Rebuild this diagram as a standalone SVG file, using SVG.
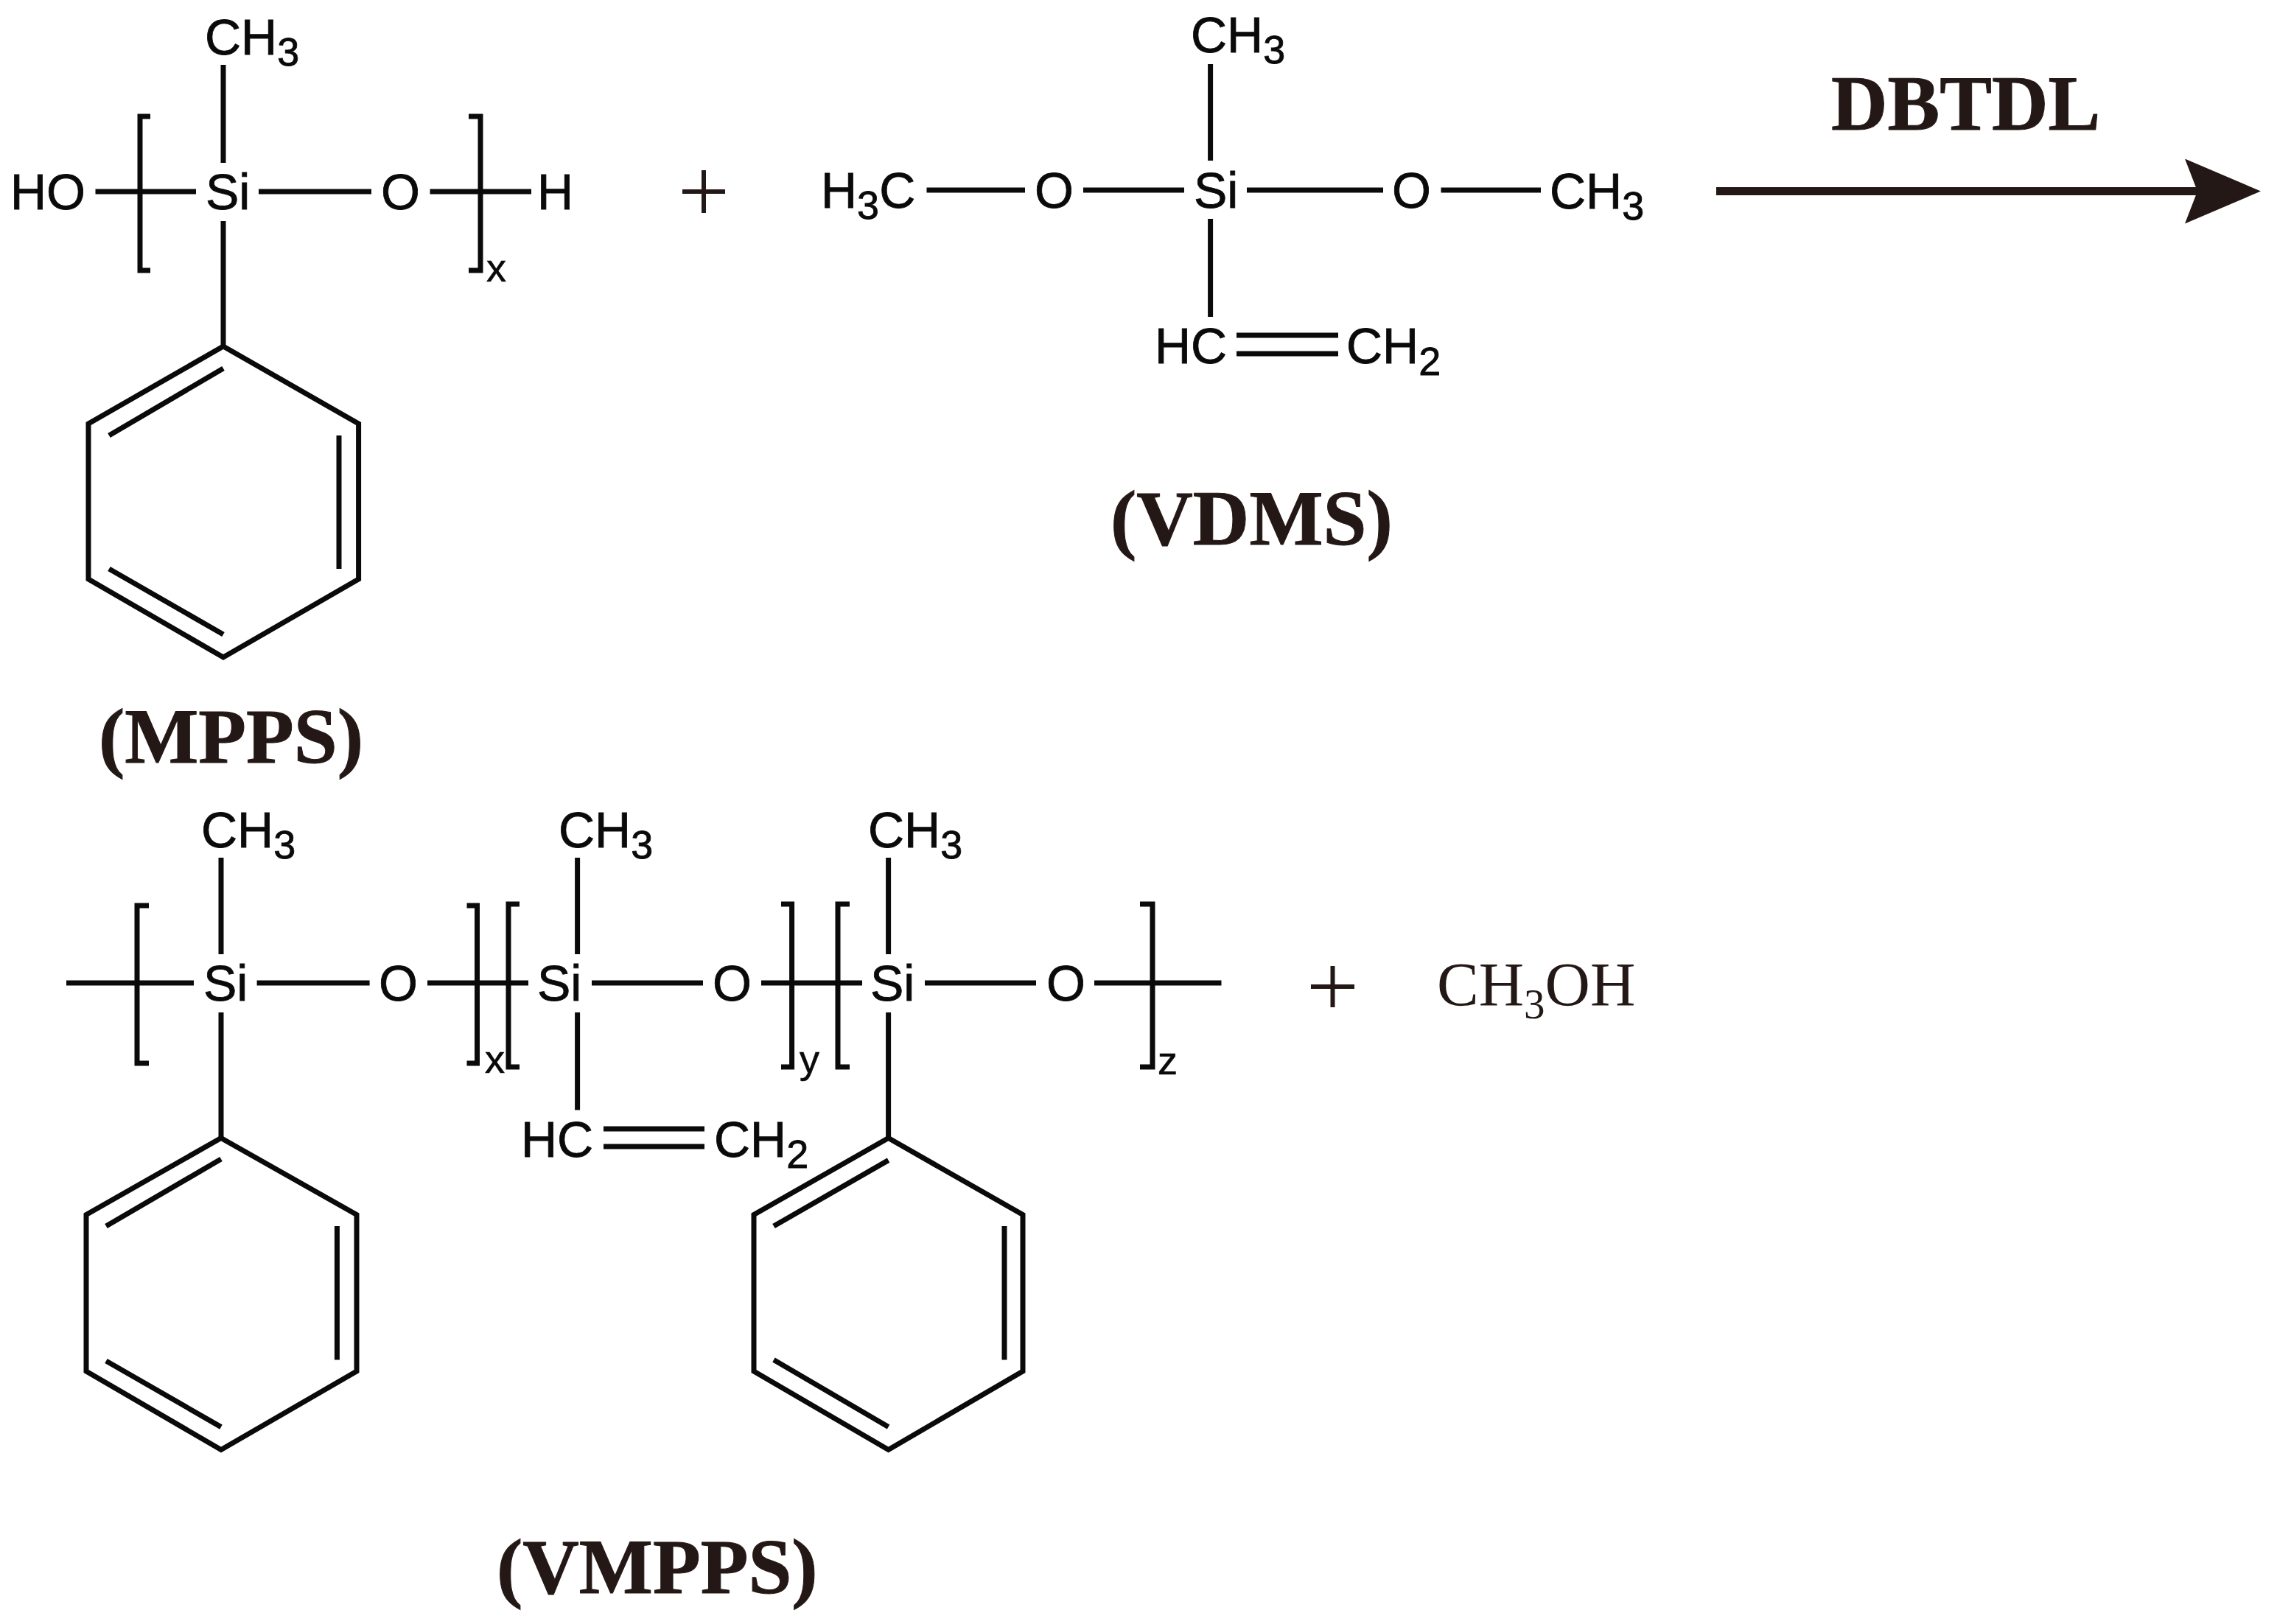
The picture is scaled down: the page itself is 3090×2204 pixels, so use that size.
<svg xmlns="http://www.w3.org/2000/svg" width="3090" height="2204" viewBox="0 0 3090 2204">
<style>
.a{font-family:"Liberation Sans",Arial,sans-serif;font-size:68px;fill:#0a0a0a;stroke:#0a0a0a;stroke-width:.8}
.s{font-size:54px}
.n{font-family:"Liberation Sans",Arial,sans-serif;font-size:54px;fill:#0a0a0a;stroke:#0a0a0a;stroke-width:.6}
.t{font-family:"Liberation Serif","Times New Roman",serif;font-size:106px;font-weight:bold;fill:#231815;stroke:#231815;stroke-width:1}
.c{font-family:"Liberation Serif","Times New Roman",serif;font-size:85px;fill:#231815}
.b{fill:none;stroke:#0a0a0a;stroke-width:7;stroke-linejoin:miter}
.p{fill:none;stroke:#231815;stroke-width:6}
</style>
<defs>
<marker id="head" markerUnits="userSpaceOnUse" markerWidth="104" markerHeight="90" refX="19" refY="44" orient="auto">
<path d="M0 0L103 44L0 88L17 44Z" fill="#231815"/>
</marker>
</defs>
<rect width="3090" height="2204" fill="#fff"/>
<g id="connectors">
<g id="bonds-mpps" class="b">
<path d="M303 88V221M303 300V470M129.500 260H266M351 260H504M583.500 260H721"/>
<path d="M204 158H190V367H204M636 158H652V367H636"/>
<path d="M303 470L486.600 575V786L303 892L120 786V575Z"/>
<path d="M148 591L303 500M460 591V772M148 772L303 861"/>
</g>
<g id="bonds-vdms" class="b">
<path d="M1642.600 87V218M1642.600 297V430M1257.500 258H1391M1470 258H1607M1692 258H1877M1955.500 258H2091"/>
<path d="M1678 455H1816M1678 480H1816"/>
</g>
<g id="bonds-vmpps" class="b">
<path d="M300 1164V1295M300 1374V1544.500M90 1334H263M348.600 1334H501.600M580 1334H717"/>
<path d="M783.600 1164V1295M783.600 1374V1506.500M803 1334H954M1033 1334H1170"/>
<path d="M1205.600 1164V1295M1205.600 1374V1544.500M1255 1334H1406M1485 1334H1657.500"/>
<path d="M819 1532H956M819 1556H956"/>
<path d="M202 1229H186V1443H202M633.500 1229H647.500V1443H633.500"/>
<path d="M705 1227H690V1448H705M1060 1227H1074.600V1448H1060"/>
<path d="M1153 1227H1137V1448H1153M1547 1227H1564V1448H1547"/>
<path d="M300 1544.500L484 1648.500V1861L300 1967.500L117 1861V1648.500Z"/>
<path d="M144 1664L300 1573M457.400 1664V1845.600M144 1847L300 1936.600"/>
<path d="M1205.600 1544.500L1388 1648.500V1861L1205.600 1967.500L1023 1861V1648.500Z"/>
<path d="M1050 1664L1205.600 1574.600M1363 1664V1845.600M1050 1845.600L1205.600 1936.600"/>
</g>
<path id="reaction-arrow" d="M2329 259.500H2984" fill="none" stroke="#231815" stroke-width="11" marker-end="url(#head)"/>
</g>
<g id="mpps">
<text class="a" x="278" y="74">CH<tspan class="s" dy="15">3</tspan></text>
<text class="a" x="14" y="284">HO</text>
<text class="a" x="279" y="284">Si</text>
<text class="a" x="517" y="284">O</text>
<text class="a" x="729" y="284">H</text>
<text class="n" x="660" y="382">x</text>
<text class="t" x="134" y="1035">(MPPS)</text>
</g>
<g id="plus-1"><path class="p" d="M926 260H984M955 231V289"/></g>
<g id="vdms">
<text class="a" x="1616" y="71">CH<tspan class="s" dy="15">3</tspan></text>
<text class="a" x="1114" y="282">H<tspan class="s" dy="15">3</tspan><tspan dy="-15">C</tspan></text>
<text class="a" x="1404" y="282">O</text>
<text class="a" x="1620" y="282">Si</text>
<text class="a" x="1889" y="282">O</text>
<text class="a" x="2103" y="283">CH<tspan class="s" dy="15">3</tspan></text>
<text class="a" x="1567" y="493">HC</text>
<text class="a" x="1827" y="493">CH<tspan class="s" dy="16">2</tspan></text>
<text class="t" x="1507" y="739">(VDMS)</text>
</g>
<g id="catalyst"><text class="t" x="2485" y="176">DBTDL</text></g>
<g id="vmpps">
<text class="a" x="273" y="1150">CH<tspan class="s" dy="15">3</tspan></text>
<text class="a" x="276" y="1358">Si</text>
<text class="a" x="514" y="1358">O</text>
<text class="n" x="658" y="1456">x</text>
<text class="a" x="758" y="1150">CH<tspan class="s" dy="15">3</tspan></text>
<text class="a" x="729" y="1358">Si</text>
<text class="a" x="967" y="1358">O</text>
<text class="n" x="1085" y="1456">y</text>
<text class="a" x="707" y="1570">HC</text>
<text class="a" x="969" y="1570">CH<tspan class="s" dy="15">2</tspan></text>
<text class="a" x="1178" y="1150">CH<tspan class="s" dy="15">3</tspan></text>
<text class="a" x="1181" y="1358">Si</text>
<text class="a" x="1420" y="1358">O</text>
<text class="n" x="1571" y="1458">z</text>
<text class="t" x="674" y="2162">(VMPPS)</text>
</g>
<g id="plus-2"><path class="p" d="M1779 1339H1838M1808.500 1311V1367"/></g>
<g id="methanol"><text class="c" x="1950" y="1365">CH<tspan font-size="57" dy="17">3</tspan><tspan dy="-17">OH</tspan></text></g>
</svg>
